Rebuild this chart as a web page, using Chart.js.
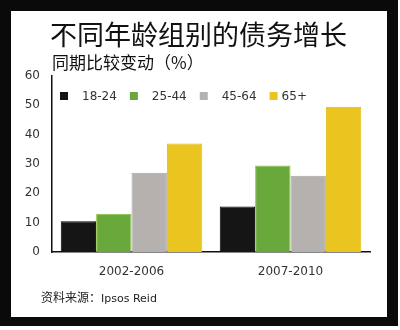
<!DOCTYPE html>
<html>
<head>
<meta charset="utf-8">
<script src="https://cdn.jsdelivr.net/npm/chart.js@4/dist/chart.umd.min.js"></script>
<style>
  html, body { margin: 0; padding: 0; background: #fff; }
  #wrap { position: relative; width: 400px; height: 330px; overflow: hidden; }
  #frame { position: absolute; left: 0; top: 0; width: 376px; height: 306px; border: 11px solid #0a0a0a; border-bottom-width: 9px; background: #fff; }
  #chart { position: absolute; left: 0; top: 0; }
  .txt { position: absolute; font-family: "Noto Sans CJK SC", sans-serif; color: #111; white-space: nowrap; line-height: 1; }
  #title { left: 50px; top: 20px; font-size: 27px; }
  #sub { left: 52px; top: 53px; font-size: 17px; }
  #src { left: 41px; top: 291px; font-size: 12px; color: #222; }
  #src span { font-family: "DejaVu Sans", sans-serif; font-size: 11px; }
</style>
</head>
<body>
<div id="wrap">
  <div id="frame"></div>
  <canvas id="chart" width="400" height="330"></canvas>
  <div class="txt" id="title">不同年龄组别的债务增长</div>
  <div class="txt" id="sub">同期比较变动（%）</div>
  <div class="txt" id="src">资料来源：<span>Ipsos Reid</span></div>
</div>
<script>
const periods = ['2002-2006', '2007-2010'];
const ageGroups = ['18-24', '25-44', '45-64', '65+'];
const growth1824 = [10.5, 15.5];
const growth2544 = [13, 29.5];
const growth4564 = [27, 26];
const growth65 = [37, 49.5];
const yTicks = [0, 10, 20, 30, 40, 50, 60];

const fills = ['#151515', '#69a83a', '#b4b1ae', '#ebc51f'];
const edges = ['#000000', '#8cc23c', '#a9a6a3', '#e2bc10'];
const tickFont = { family: 'DejaVu Sans', size: 12 };

// legend drawn inside the plot area, as in the original
const innerLegend = {
  id: 'innerLegend',
  afterDraw(chart) {
    const ctx = chart.ctx;
    let x = 60;
    const y = 96;
    ctx.save();
    ctx.font = '12px "DejaVu Sans"';
    ctx.textBaseline = 'middle';
    chart.data.datasets.forEach((ds, i) => {
      ctx.fillStyle = ds.backgroundColor;
      ctx.fillRect(x, y - 4, 8, 8);
      ctx.fillStyle = '#333';
      const gap = i === 3 ? 4 : 14;
      ctx.fillText(ds.label, x + 8 + gap, y + 1);
      x += 8 + gap + ctx.measureText(ds.label).width + 13;
    });
    ctx.restore();
  }
};

const series = [growth1824, growth2544, growth4564, growth65];

new Chart(document.getElementById('chart'), {
  type: 'bar',
  data: {
    labels: periods,
    datasets: ageGroups.map((g, i) => ({
      label: g,
      data: series[i],
      backgroundColor: fills[i],
      borderColor: edges[i],
      borderWidth: 1,
      categoryPercentage: 0.89,
      barPercentage: 1
    }))
  },
  options: {
    responsive: false,
    animation: false,
    layout: { padding: { left: 0, right: 30, top: 76, bottom: 48 } },
    plugins: { legend: { display: false }, tooltip: { enabled: false } },
    scales: {
      x: {
        grid: { display: false, drawTicks: false },
        border: { color: '#111', width: 1.5 },
        ticks: { font: tickFont, color: '#333', padding: 13 },
        afterFit(s) { s.height = 30; }
      },
      y: {
        min: 0, max: 60,
        afterBuildTicks(s) { s.ticks = yTicks.map(v => ({ value: v })); },
        grid: { display: false, drawTicks: false },
        border: { color: '#111', width: 1.5 },
        ticks: { font: tickFont, color: '#333', padding: 12 },
        afterFit(s) { s.width = 52; }
      }
    }
  },
  plugins: [innerLegend]
});
</script>
</body>
</html>
